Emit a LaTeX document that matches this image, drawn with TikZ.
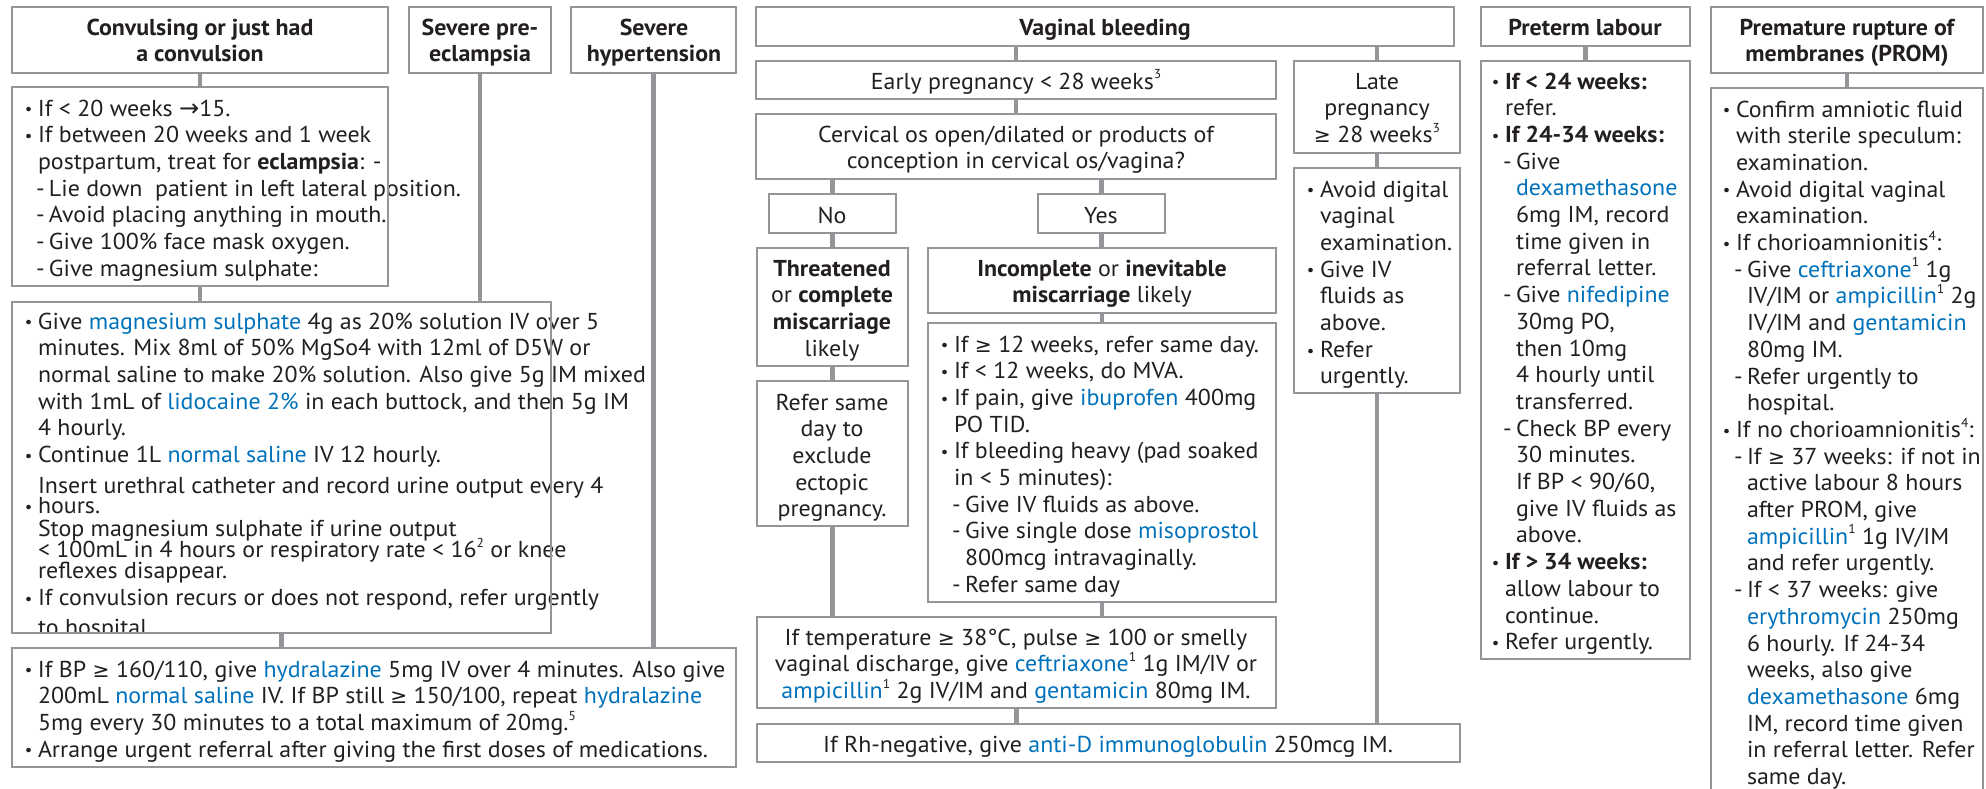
\documentclass[tikz,border=0pt]{standalone}
\usepackage{fontspec}
\setmainfont[FakeStretch=1.04]{PT Sans}
\newfontfamily\djv[Scale=0.88]{DejaVu Sans}
\newfontfamily\djvA[Scale=1.05]{DejaVu Sans}
\usepackage{xcolor}
\definecolor{txt}{HTML}{231F20}
\definecolor{blu}{HTML}{0072BC}
\definecolor{brd}{HTML}{939598}
\newcommand\bl[1]{\textcolor{blu}{#1}}
\newcommand\sups[1]{\raisebox{0.9ex}{\fontsize{6.5}{7}\selectfont #1}}
\newcommand\GE{{\djv ≥}}
\newcommand\Arr{{\djvA →}}
\newcommand\Bu{\makebox[6pt][l]{\kern-0.6pt\raisebox{0.6pt}{\fontsize{8}{8}\selectfont •}}}
\newcommand\Da{\makebox[5.5pt][l]{\kern-0.9pt-}}
\newcommand\In{\kern6pt}
\newcommand\Tx[1]{\vtop{\baselineskip=13.35pt\lineskiplimit=-100pt\lineskip=0pt #1}}
\newcommand\Ln[1]{\hbox{#1}}
\newcommand\Lc[1]{\hbox to 0pt{\hss#1\hss}}
\newcommand\fs{\fontsize{11.5}{13.35}\selectfont}
\newcommand\bx[5]{\node[box, minimum width={(#4-#2)*0.5pt}, minimum height={(#5-#3)*0.5pt}] (#1) at ({(#2+#4)/2},{(#3+#5)/2}) {};}
\begin{document}
\begin{tikzpicture}[x=0.5pt,y=-0.5pt,
  box/.style={draw=brd,line width=0.8pt,rectangle,inner sep=0pt,outer sep=0pt},
  conn/.style={draw=brd,line width=2.3pt},
  tx/.style={inner sep=0pt,outer sep=0pt,font=\fs,text=txt}]
\path[use as bounding box, fill=white] (0,0) rectangle (1986,788);

% ---------- left column texts
\node[tx,anchor=base] (t-conv) at (200,35) {\Tx{\bfseries\Lc{Convulsing or just had}\Lc{a convulsion}}};
\node[tx,anchor=base] (t-pre) at (480,35) {\Tx{\bfseries\Lc{Severe pre-}\Lc{eclampsia}}};
\node[tx,anchor=base] (t-hyp) at (654,35) {\Tx{\bfseries\Lc{Severe}\Lc{hypertension}}};

\node[tx,anchor=base west] (t-b2) at (26,116) {\Tx{%
\Ln{\Bu If < 20 weeks \Arr15.}
\Ln{\Bu If between 20 weeks and 1 week}
\Ln{\In postpartum, treat for \textbf{eclampsia}: -}
\Ln{\In\Da Lie down~ patient in left lateral position.}
\Ln{\In\Da Avoid placing anything in mouth.}
\Ln{\In\Da Give 100\% face mask oxygen.}
\Ln{\In\Da Give magnesium sulphate:}}};

\begin{scope}
\clip (0,0) rectangle (1986,633);
\node[tx,anchor=base west] (t-b3) at (26,329) {\Tx{%
\Ln{\Bu Give \bl{magnesium sulphate} 4g as 20\% solution IV over 5}
\Ln{\In minutes. Mix 8ml of 50\% MgSo4 with 12ml of D5W or}
\Ln{\In normal saline to make 20\% solution. Also give 5g IM mixed}
\Ln{\In with 1mL of \bl{lidocaine 2\%} in each buttock, and then 5g IM}
\Ln{\In 4 hourly.}
\Ln{\Bu Continue 1L \bl{normal saline} IV 12 hourly.}
\vskip2.15pt
\Ln{\In Insert urethral catheter and record urine output every 4}
\vskip-3.35pt
\Ln{\Bu hours.}
\vskip-1.85pt
\Ln{\In Stop magnesium sulphate if urine output}
\vskip-2.85pt
\Ln{\In < 100mL in 4 hours or respiratory rate < 16\sups{2} or knee}
\vskip-2.85pt
\Ln{\In reflexes disappear.}
\Ln{\Bu If convulsion recurs or does not respond, refer urgently}
\vskip1.6pt
\Ln{\In to hospital.}}};
\end{scope}

\node[tx,anchor=base west] (t-b4) at (26,677) {\Tx{%
\Ln{\Bu If BP \GE\ 160/110, give \bl{hydralazine} 5mg IV over 4 minutes. Also give}
\Ln{\In 200mL \bl{normal saline} IV. If BP still \GE\ 150/100, repeat \bl{hydralazine}}
\Ln{\In 5mg every 30 minutes to a total maximum of 20mg.\sups{5}}
\Ln{\Bu Arrange urgent referral after giving the first doses of medications.}}};

% ---------- vaginal bleeding texts
\node[tx,anchor=base] (t-vag) at (1105,35) {\textbf{Vaginal bleeding}};
\node[tx,anchor=base] (t-early) at (1016,89) {Early pregnancy < 28 weeks\sups{3}};
\node[tx,anchor=base] (t-cerv) at (1016,142) {\Tx{\Lc{Cervical os open/dilated or products of}\Lc{conception in cervical os/vagina?}}};
\node[tx,anchor=base] (t-no) at (832,223) {No};
\node[tx,anchor=base] (t-yes) at (1101,223) {Yes};
\node[tx,anchor=base] (t-thr) at (832,276) {\Tx{\Lc{\textbf{Threatened}}\Lc{or \textbf{complete}}\Lc{\textbf{miscarriage}}\Lc{likely}}};
\node[tx,anchor=base] (t-inc) at (1102,276) {\Tx{\Lc{\textbf{Incomplete} or \textbf{inevitable}}\Lc{\textbf{miscarriage} likely}}};
\node[tx,anchor=base] (t-ref) at (832,410) {\Tx{\Lc{Refer same}\Lc{day to}\Lc{exclude}\Lc{ectopic}\Lc{pregnancy.}}};
\node[tx,anchor=base west] (t-incb) at (942,352) {\Tx{%
\Ln{\Bu If \GE\ 12 weeks, refer same day.}
\Ln{\Bu If < 12 weeks, do MVA.}
\Ln{\Bu If pain, give \bl{ibuprofen} 400mg}
\Ln{\In PO TID.}
\Ln{\Bu If bleeding heavy (pad soaked}
\Ln{\In in < 5 minutes):}
\Ln{\In\Da Give IV fluids as above.}
\Ln{\In\Da Give single dose \bl{misoprostol}}
\Ln{\In\kern5.5pt 800mcg intravaginally.}
\Ln{\In\Da Refer same day}}};
\node[tx,anchor=base] (t-temp) at (1016,645) {\Tx{\Lc{If temperature \GE\ 38°C, pulse \GE\ 100 or smelly}\Lc{vaginal discharge, give \bl{ceftriaxone}\sups{1} 1g IM/IV or}\Lc{\bl{ampicillin}\sups{1} 2g IV/IM and \bl{gentamicin} 80mg IM.}}};
\node[tx,anchor=base] (t-rh) at (1108,752) {If Rh-negative, give \bl{anti-D immunoglobulin} 250mcg IM.};
\node[tx,anchor=base] (t-late) at (1377,89) {\Tx{\Lc{Late}\Lc{pregnancy}\Lc{\GE\ 28 weeks\sups{3}}}};
\node[tx,anchor=base west] (t-avoid) at (1308,197) {\Tx{%
\Ln{\Bu Avoid digital}
\Ln{\In vaginal}
\Ln{\In examination.}
\Ln{\Bu Give IV}
\Ln{\In fluids as}
\Ln{\In above.}
\Ln{\Bu Refer}
\Ln{\In urgently.}}};

% ---------- preterm labour
\node[tx,anchor=base] (t-pt) at (1585,35) {\textbf{Preterm labour}};
\node[tx,anchor=base west] (t-ptb) at (1493,89) {\Tx{%
\Ln{\Bu \textbf{If < 24 weeks:}}
\Ln{\In refer.}
\Ln{\Bu \textbf{If 24-34 weeks:}}
\Ln{\In\Da Give}
\Ln{\In\kern5.5pt\bl{dexamethasone}}
\Ln{\In\kern5.5pt 6mg IM, record}
\Ln{\In\kern5.5pt time given in}
\Ln{\In\kern5.5pt referral letter.}
\Ln{\In\Da Give \bl{nifedipine}}
\Ln{\In\kern5.5pt 30mg PO,}
\Ln{\In\kern5.5pt then 10mg}
\Ln{\In\kern5.5pt 4 hourly until}
\Ln{\In\kern5.5pt transferred.}
\Ln{\In\Da Check BP every}
\Ln{\In\kern5.5pt 30 minutes.}
\Ln{\In\kern5.5pt If BP < 90/60,}
\Ln{\In\kern5.5pt give IV fluids as}
\Ln{\In\kern5.5pt above.}
\Ln{\Bu \textbf{If > 34 weeks:}}
\Ln{\In allow labour to}
\Ln{\In continue.}
\Ln{\Bu Refer urgently.}}};

% ---------- PROM
\node[tx,anchor=base] (t-prom) at (1847,35) {\Tx{\bfseries\Lc{Premature rupture of}\Lc{membranes (PROM)}}};
\node[tx,anchor=base west] (t-promb) at (1724,117) {\Tx{%
\Ln{\Bu Confirm amniotic fluid}
\Ln{\In with sterile speculum:}
\Ln{\In examination.}
\Ln{\Bu Avoid digital vaginal}
\Ln{\In examination.}
\Ln{\Bu If chorioamnionitis\sups{4}:}
\Ln{\In\Da Give \bl{ceftriaxone}\sups{1} 1g}
\Ln{\In\kern5.5pt IV/IM or \bl{ampicillin}\sups{1} 2g}
\Ln{\In\kern5.5pt IV/IM and \bl{gentamicin}}
\Ln{\In\kern5.5pt 80mg IM.}
\Ln{\In\Da Refer urgently to}
\Ln{\In\kern5.5pt hospital.}
\Ln{\Bu If no chorioamnionitis\sups{4}:}
\Ln{\In\Da If \GE\ 37 weeks: if not in}
\Ln{\In\kern5.5pt active labour 8 hours}
\Ln{\In\kern5.5pt after PROM, give}
\Ln{\In\kern5.5pt\bl{ampicillin}\sups{1} 1g IV/IM}
\Ln{\In\kern5.5pt and refer urgently.}
\Ln{\In\Da If < 37 weeks: give}
\Ln{\In\kern5.5pt\bl{erythromycin} 250mg}
\Ln{\In\kern5.5pt 6 hourly. If 24-34}
\Ln{\In\kern5.5pt weeks, also give}
\Ln{\In\kern5.5pt\bl{dexamethasone} 6mg}
\Ln{\In\kern5.5pt IM, record time given}
\Ln{\In\kern5.5pt in referral letter. Refer}
\Ln{\In\kern5.5pt same day.}}};

% ---------- boxes
\bx{conv}{12}{7}{388}{73}
\bx{pre}{409}{7}{551}{73}
\bx{hyp}{571}{7}{736}{73}
\bx{b2}{12}{87}{388}{286}
\bx{b3}{12}{302}{551}{633}
\bx{b4}{12}{648}{736}{767}
\bx{vag}{756}{7}{1454}{46}
\bx{early}{756}{61}{1276}{99}
\bx{cerv}{756}{114}{1276}{179}
\bx{no}{769}{194}{896}{233}
\bx{yes}{1038}{194}{1165}{233}
\bx{thr}{757}{248}{908}{366}
\bx{inc}{928}{248}{1276}{313}
\bx{ref}{757}{381}{908}{526}
\bx{incb}{928}{323}{1276}{602}
\bx{temp}{757}{617}{1276}{708}
\bx{rh}{757}{724}{1460}{762}
\bx{late}{1294}{61}{1460}{153}
\bx{avoid}{1294}{168}{1460}{393}
\bx{pt}{1481}{7}{1690}{46}
\bx{ptb}{1481}{61}{1690}{659}
\bx{prom}{1711}{7}{1983}{73}
\bx{promb}{1711}{88}{1983}{800}

% ---------- connectors
\draw[conn] (conv.south) -- (b2.north);
\draw[conn] (b2.south) -- (b2.south |- b3.north);
\draw[conn] (pre.south) -- (pre.south |- b3.north);
\draw[conn] (b3.south) -- (b3.south |- b4.north);
\draw[conn] (hyp.south) -- (hyp.south |- b4.north);
\draw[conn] (early.north |- vag.south) -- (early.north);
\draw[conn] (early.south) -- (cerv.north);
\draw[conn] (no.north |- cerv.south) -- (no.north);
\draw[conn] (yes.north |- cerv.south) -- (yes.north);
\draw[conn] (no.south) -- (no.south |- thr.north);
\draw[conn] (yes.south) -- (yes.south |- inc.north);
\draw[conn] (thr.south) -- (ref.north);
\draw[conn] (inc.south) -- (incb.north);
\draw[conn] (ref.south) -- (ref.south |- temp.north);
\draw[conn] (incb.south) -- (incb.south |- temp.north);
\draw[conn] (temp.south) -- (temp.south |- rh.north);
\draw[conn] (late.north |- vag.south) -- (late.north);
\draw[conn] (late.south) -- (avoid.north);
\draw[conn] (avoid.south) -- (avoid.south |- rh.north);
\draw[conn] (pt.south) -- (ptb.north);
\draw[conn] (prom.south) -- (promb.north);
\end{tikzpicture}
\end{document}
